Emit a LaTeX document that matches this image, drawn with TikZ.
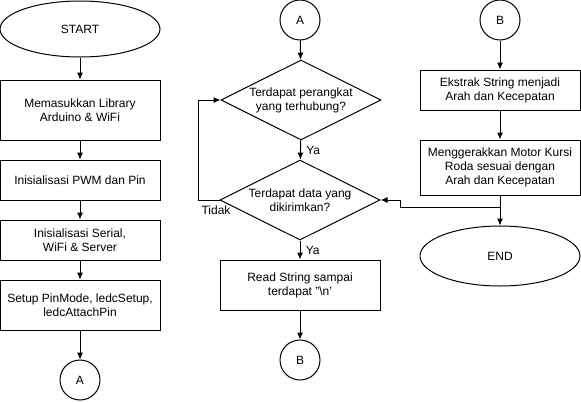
\documentclass[tikz,border=0pt]{standalone}
\usepackage{fontspec}
\setmainfont{Liberation Sans}
\usetikzlibrary{arrows.meta, shapes}
\tikzset{>={Latex[length=7pt,width=6pt]}}

\begin{document}
\begin{tikzpicture}[x=1pt, y=-1pt, font=\fontsize{12}{14}\selectfont,
  proses/.style={draw, line width=1pt, minimum width=160pt, align=center, inner sep=0pt},
  terminal/.style={draw, ellipse, line width=1pt, minimum width=160pt, inner sep=0pt},
  konektor/.style={draw, circle, line width=1pt, minimum size=40pt, inner sep=0pt},
  keputusan/.style={draw, diamond, line width=1pt, minimum width=160pt, minimum height=80pt, inner sep=0pt},
  alur/.style={line width=1pt, ->}]
\useasboundingbox (0,0) rectangle (581,402);

\begin{scope}
\node[terminal, minimum height=56pt] (start) at (80,29) {START};
\node[proses, minimum height=60pt] (pustaka) at (80,110) {Memasukkan Library\\Arduino \& WiFi};
\node[proses, minimum height=40pt] (pwm) at (80,180) {Inisialisasi PWM dan Pin};
\node[proses, minimum height=40pt] (serial) at (80,240) {Inisialisasi Serial,\\WiFi \& Server};
\node[proses, minimum height=50pt] (setup) at (80,305) {Setup PinMode, ledcSetup,\\ledcAttachPin};
\node[konektor] (keA) at (80,380) {A};
\draw[alur] (start) -- (pustaka);
\draw[alur] (pustaka) -- (pwm);
\draw[alur] (pwm) -- (serial);
\draw[alur] (serial) -- (setup);
\draw[alur] (setup) -- (keA);
\end{scope}

\begin{scope}
\node[konektor] (dariA) at (300,20) {A};
\node[keputusan, label={[align=center]center:Terdapat perangkat\\yang terhubung?}] (cekhub) at (301,100) {};
\node[keputusan, label={[align=center]center:Terdapat data yang\\dikirimkan?}] (cekdata) at (300,200) {};
\node[proses, minimum height=50pt] (baca) at (300,285) {Read String sampai\\terdapat "\textbackslash n'};
\node[konektor] (keB) at (300,360) {B};
\draw[alur] (dariA) -- (cekhub);
\draw[alur] (cekhub) -- node[right, xshift=2pt] (ya1) {Ya} (cekdata);
\draw[alur] (cekdata) -- node[right, xshift=2pt] (ya2) {Ya} (baca);
\draw[alur] (baca) -- (keB);
\draw[alur] (cekdata.west) -- ++(-21,0) |- (cekhub.west);
\node (tidak) at (216,210) {Tidak};
\end{scope}

\begin{scope}
\node[konektor] (dariB) at (500,20) {B};
\node[proses, minimum height=40pt] (ekstrak) at (500,90) {Ekstrak String menjadi\\Arah dan Kecepatan};
\node[proses, minimum height=55pt] (motor) at (500,167.5) {Menggerakkan Motor Kursi\\Roda sesuai dengan\\Arah dan Kecepatan};
\node[terminal, minimum height=60pt] (selesai) at (500,256) {END};
\coordinate (cabang) at (500,207);
\draw[alur] (dariB) -- (ekstrak);
\draw[alur] (ekstrak) -- (motor);
\draw[alur] (motor) -- (selesai);
\draw[alur] (cabang) -- ++(-100,0) |- (cekdata.east);
\end{scope}

\end{tikzpicture}
\end{document}
